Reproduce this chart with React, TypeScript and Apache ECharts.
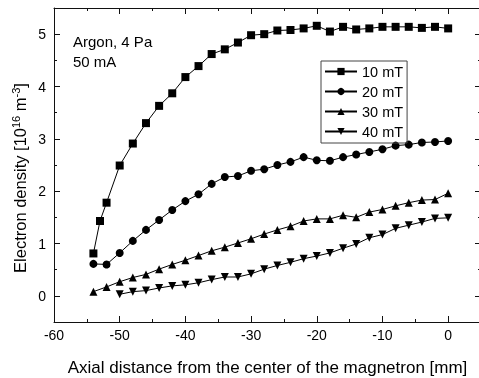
import React, { useEffect, useRef } from "react";
import * as echarts from "echarts";

const x10 = [-54, -53, -52, -50, -48, -46, -44, -42, -40, -38, -36, -34, -32, -30, -28, -26, -24, -22, -20, -18, -16, -14, -12, -10, -8, -6, -4, -2, 0];
const y10 = [0.81, 1.43, 1.78, 2.49, 2.91, 3.3, 3.63, 3.87, 4.18, 4.39, 4.62, 4.71, 4.84, 4.98, 5.0, 5.07, 5.08, 5.11, 5.16, 5.05, 5.14, 5.09, 5.11, 5.14, 5.14, 5.14, 5.12, 5.14, 5.11];

const x20 = [-54, -52, -50, -48, -46, -44, -42, -40, -38, -36, -34, -32, -30, -28, -26, -24, -22, -20, -18, -16, -14, -12, -10, -8, -6, -4, -2, 0];
const y20 = [0.61, 0.6, 0.82, 1.05, 1.26, 1.45, 1.64, 1.81, 1.94, 2.14, 2.27, 2.29, 2.39, 2.42, 2.5, 2.56, 2.65, 2.59, 2.58, 2.65, 2.7, 2.75, 2.8, 2.87, 2.89, 2.93, 2.94, 2.96];

const x30 = [-54, -52, -50, -48, -46, -44, -42, -40, -38, -36, -34, -32, -30, -28, -26, -24, -22, -20, -18, -16, -14, -12, -10, -8, -6, -4, -2, 0];
const y30 = [0.08, 0.17, 0.27, 0.35, 0.41, 0.51, 0.6, 0.68, 0.77, 0.86, 0.93, 1.01, 1.09, 1.18, 1.26, 1.33, 1.43, 1.47, 1.47, 1.54, 1.5, 1.6, 1.65, 1.72, 1.78, 1.83, 1.84, 1.96];

const x40 = [-50, -48, -46, -44, -42, -40, -38, -36, -34, -32, -30, -28, -26, -24, -22, -20, -18, -16, -14, -12, -10, -8, -6, -4, -2, 0];
const y40 = [0.03, 0.08, 0.1, 0.15, 0.19, 0.21, 0.25, 0.31, 0.36, 0.36, 0.42, 0.51, 0.58, 0.64, 0.71, 0.76, 0.82, 0.91, 0.99, 1.11, 1.17, 1.29, 1.35, 1.41, 1.48, 1.49];

const seriesNames = ["10 mT", "20 mT", "30 mT", "40 mT"];
const yTickValues = [0, 1, 2, 3, 4, 5];

const FONT = "'Liberation Sans', Arial, sans-serif";
const AX = "#111";

export default function App() {
  const ref = useRef<HTMLDivElement>(null);
  useEffect(() => {
    if (!ref.current) return;
    const chart = echarts.init(ref.current, null, { renderer: "svg" });
    const mk = (name: string, xs: number[], ys: number[], symbol: string, rot = 0) => ({
      name,
      type: "line",
      xAxisIndex: 0,
      yAxisIndex: 0,
      data: xs.map((x, i) => [x, ys[i]]),
      symbol,
      symbolSize: 8,
      symbolRotate: rot,
      lineStyle: { color: "#000", width: 1 },
      itemStyle: { color: "#000" },
      emphasis: { disabled: true },
    });
    const gridRect = { left: 54, top: 8, width: 427, height: 314, containLabel: false, outerBoundsMode: "none" };
    const xBase = {
      type: "value",
      gridIndex: 0,
      min: -60,
      max: 5,
      interval: 10,
      splitLine: { show: false },
      axisLine: { show: true, onZero: false, lineStyle: { color: AX, width: 1 } },
      axisTick: { show: true, inside: true, length: 6, lineStyle: { color: AX } },
      minorTick: { show: true, splitNumber: 2, length: 3, lineStyle: { color: AX } },
    };
    const yMajor = {
      type: "value",
      gridIndex: 0,
      min: -0.5,
      max: 5.5,
      splitLine: { show: false },
      axisLine: { show: true, onZero: false, lineStyle: { color: AX, width: 1 } },
      axisTick: { show: true, inside: true, length: 6, customValues: yTickValues, lineStyle: { color: AX } },
      axisLabel: { show: false },
    };
    const yMinor = {
      type: "value",
      gridIndex: 1,
      min: -0.5,
      max: 5.5,
      interval: 0.5,
      splitLine: { show: false },
      axisLine: { show: false, onZero: false },
      axisTick: { show: true, inside: true, length: 3, lineStyle: { color: AX } },
      axisLabel: { show: false },
    };
    chart.setOption({
      animation: false,
      grid: [gridRect, { ...gridRect }],
      xAxis: [
        {
          ...xBase,
          position: "bottom",
          axisLabel: {
            show: true,
            margin: 6,
            color: "#000",
            fontSize: 14,
            fontFamily: FONT,
            formatter: (v: number) => (v > 0 ? "" : String(v)),
          },
          name: "Axial distance from the center of the magnetron [mm]",
          nameLocation: "middle",
          nameGap: 37,
          nameTextStyle: { color: "#000", fontSize: 17, fontFamily: FONT },
        },
        { ...xBase, position: "top", axisLabel: { show: false } },
        { type: "value", gridIndex: 1, min: -60, max: 5, show: false, axisLine: { onZero: false } },
      ],
      yAxis: [
        {
          ...yMajor,
          position: "left",
          axisLabel: {
            show: true,
            customValues: yTickValues,
            margin: 8,
            color: "#000",
            fontSize: 14,
            fontFamily: FONT,
          },
        },
        { ...yMajor, position: "right" },
        { ...yMinor, position: "left" },
        { ...yMinor, position: "right" },
      ],
      legend: {
        data: seriesNames,
        orient: "vertical",
        left: 321,
        top: 61,
        itemWidth: 32,
        itemHeight: 9,
        itemGap: 5,
        padding: [3, 4, 4, 3],
        borderColor: "#444",
        borderWidth: 1,
        textStyle: { color: "#000", fontSize: 14.5, fontFamily: FONT },
        selectedMode: false,
      },
      graphic: [
        {
          type: "text",
          left: 73,
          top: 31,
          style: {
            text: "Argon, 4 Pa\n50 mA",
            fill: "#000",
            font: `15px ${FONT}`,
            lineHeight: 20,
          },
        },
        {
          type: "text",
          x: 20,
          y: 178,
          rotation: Math.PI / 2,
          style: {
            text: "Electron density [10{sup|16} m{sup|-3}]",
            fill: "#000",
            font: `16.5px ${FONT}`,
            fontSize: 16.5,
            fontFamily: FONT,
            align: "center",
            verticalAlign: "middle",
            lineHeight: 19,
            rich: {
              sup: { fontSize: 11, fontFamily: FONT, fill: "#000", verticalAlign: "top", lineHeight: 11 },
            },
          },
        },
      ],
      series: [
        mk(seriesNames[0], x10, y10, "rect"),
        mk(seriesNames[1], x20, y20, "circle"),
        mk(seriesNames[2], x30, y30, "triangle"),
        mk(seriesNames[3], x40, y40, "triangle", 180),
      ],
    });
    return () => chart.dispose();
  }, []);
  return <div ref={ref} style={{ position: "fixed", left: 0, top: 0, width: 479, height: 378 }} />;
}
